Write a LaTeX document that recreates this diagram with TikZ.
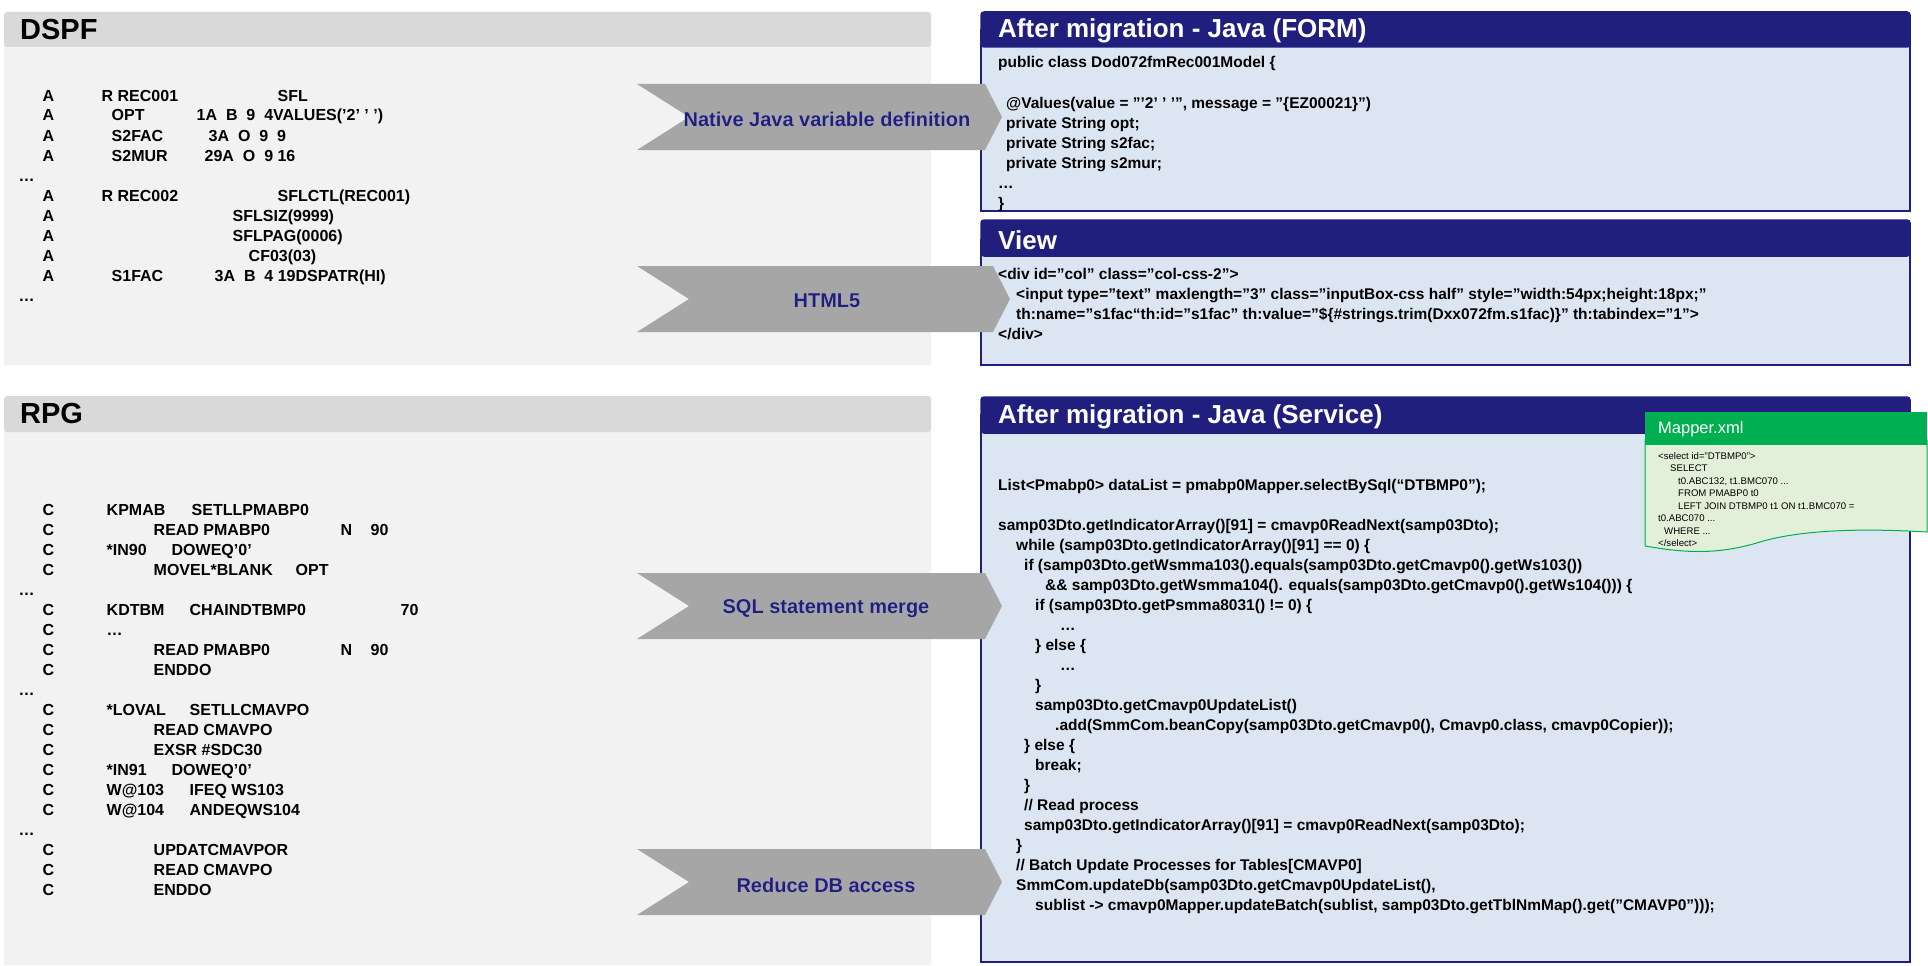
\documentclass[tikz,border=0pt]{standalone}
\usepackage{fontspec}
\setmainfont{Liberation Sans}
\usepackage[outline]{contour}
\contourlength{1.3pt}
\definecolor{navy}{RGB}{33,31,125}
\definecolor{pbody}{RGB}{242,242,242}
\definecolor{phead}{RGB}{217,217,217}
\definecolor{jbody}{RGB}{220,230,242}
\definecolor{arrowgray}{RGB}{166,166,166}
\definecolor{mgreen}{RGB}{0,176,80}
\definecolor{mbody}{RGB}{226,239,217}
\definecolor{halo}{RGB}{215,220,235}
\newcounter{lnc}
\newcommand{\tk}[2]{\rlap{\hspace*{#1pt}#2}}
\newcommand{\cln}[3]{\stepcounter{lnc}\node[code] (l\arabic{lnc}) at (#1,#2) {#3};}
\newcommand{\jln}[3]{\stepcounter{lnc}\node[jcode] (l\arabic{lnc}) at (#1,#2) {#3};}
\begin{document}
\begin{tikzpicture}[x=1pt,y=-1pt,
  code/.style={anchor=base west,inner sep=0,font=\fontsize{16}{19}\selectfont\bfseries},
  jcode/.style={anchor=base west,inner sep=0,font=\fontsize{15.5}{19}\selectfont\bfseries},
  mcode/.style={anchor=base west,inner sep=0,font=\fontsize{9.6}{12}\selectfont},
  panelbody/.style={fill=pbody,draw=none},
  panelhead/.style={fill=phead,draw=none,rounded corners=3pt},
  ptitle/.style={anchor=west,inner sep=0,font=\fontsize{29}{32}\selectfont\bfseries},
  jbox/.style={fill=jbody,draw=navy,line width=1.5pt},
  jhead/.style={fill=navy,draw=navy,line width=1.5pt,rounded corners=3pt},
  jtitle/.style={anchor=west,inner sep=0,text=white,font=\fontsize{26}{30}\selectfont\bfseries},
  chev/.style={fill=arrowgray,draw=none},
  chevlabel/.style={inner sep=0,text=navy,font=\fontsize{20}{24}\selectfont\bfseries}]
\useasboundingbox (0,0) rectangle (1928,966);
\fill[white] (0,0) rectangle (1928,966);
% ---- left panels
\fill[panelbody] (4,30) rectangle (931,365);
\fill[panelhead] (4,12) rectangle (931,47);
\node[ptitle] (tdspf) at (20,30) {DSPF};
\fill[panelbody] (4,415) rectangle (931,965);
\fill[panelhead] (4,396) rectangle (931,432);
\node[ptitle] (trpg) at (20,414) {RPG};
% ---- DSPF code
\cln{0}{101}{\tk{42}{A}\tk{101}{R REC001}\tk{277}{SFL}}
\cln{0}{121}{\tk{42}{A}\tk{111}{OPT}\tk{196}{1A\ \ B\ \ 9\ \ 4VALUES('2' ' ')}}
\cln{0}{141}{\tk{42}{A}\tk{111}{S2FAC}\tk{208}{3A\ \ O\ \ 9\ \ 9}}
\cln{0}{161}{\tk{42}{A}\tk{111}{S2MUR}\tk{204}{29A\ \ O\ \ 9 16}}
\cln{0}{181}{\tk{18}{…}}
\cln{0}{201}{\tk{42}{A}\tk{101}{R REC002}\tk{277}{SFLCTL(REC001)}}
\cln{0}{221}{\tk{42}{A}\tk{232}{SFLSIZ(9999)}}
\cln{0}{241}{\tk{42}{A}\tk{232}{SFLPAG(0006)}}
\cln{0}{261}{\tk{42}{A}\tk{248}{CF03(03)}}
\cln{0}{281}{\tk{42}{A}\tk{111}{S1FAC}\tk{214}{3A\ \ B\ \ 4 19DSPATR(HI)}}
\cln{0}{301}{\tk{18}{…}}
% ---- RPG code
\cln{0}{515}{\tk{42}{C}\tk{106}{KPMAB}\tk{191}{SETLLPMABP0}}
\cln{0}{535}{\tk{42}{C}\tk{153}{READ PMABP0}\tk{340}{N}\tk{370}{90}}
\cln{0}{555}{\tk{42}{C}\tk{106}{*IN90}\tk{171}{DOWEQ'0'}}
\cln{0}{575}{\tk{42}{C}\tk{153}{MOVEL*BLANK}\tk{295}{OPT}}
\cln{0}{595}{\tk{18}{…}}
\cln{0}{615}{\tk{42}{C}\tk{106}{KDTBM}\tk{189}{CHAINDTBMP0}\tk{400}{70}}
\cln{0}{635}{\tk{42}{C}\tk{106}{…}}
\cln{0}{655}{\tk{42}{C}\tk{153}{READ PMABP0}\tk{340}{N}\tk{370}{90}}
\cln{0}{675}{\tk{42}{C}\tk{153}{ENDDO}}
\cln{0}{695}{\tk{18}{…}}
\cln{0}{715}{\tk{42}{C}\tk{106}{*LOVAL}\tk{189}{SETLLCMAVPO}}
\cln{0}{735}{\tk{42}{C}\tk{153}{READ CMAVPO}}
\cln{0}{755}{\tk{42}{C}\tk{153}{EXSR \#SDC30}}
\cln{0}{775}{\tk{42}{C}\tk{106}{*IN91}\tk{171}{DOWEQ'0'}}
\cln{0}{795}{\tk{42}{C}\tk{106}{W@103}\tk{189}{IFEQ WS103}}
\cln{0}{815}{\tk{42}{C}\tk{106}{W@104}\tk{189}{ANDEQWS104}}
\cln{0}{835}{\tk{18}{…}}
\cln{0}{855}{\tk{42}{C}\tk{153}{UPDATCMAVPOR}}
\cln{0}{875}{\tk{42}{C}\tk{153}{READ CMAVPO}}
\cln{0}{895}{\tk{42}{C}\tk{153}{ENDDO}}
% ---- right boxes
\draw[jbox] (981,30) rectangle (1910,211);
\draw[jhead] (981,12) rectangle (1910,47);
\node[jtitle] (tform) at (998,31) {After migration - Java (FORM)};
\draw[jbox] (981,240) rectangle (1910,365);
\draw[jhead] (981,220) rectangle (1910,256);
\node[jtitle] (tview) at (998,240) {View};
\draw[jbox] (981,415) rectangle (1910,962);
\draw[jhead] (981,397) rectangle (1910,433);
\node[jtitle] (tserv) at (998,417) {After migration - Java (Service)};
% FORM code
\jln{998}{68}{public class Dod072fmRec001Model \{}
\jln{1006}{108}{@Values(value = "'2' ' '", message = "\{EZ00021\}")}
\jln{1006}{128}{private String opt;}
\jln{1006}{148}{private String s2fac;}
\jln{1006}{168}{private String s2mur;}
\jln{998}{188}{…}
\jln{998}{208}{\}}
% View code
\jln{998}{279}{<div id="col" class="col-css-2">}
\jln{1016}{299}{<input type="text" maxlength="3" class="inputBox-css half" style="width:54px;height:18px;"}
\jln{1016}{319}{th:name="s1fac“th:id="s1fac" th:value="\$\{\#strings.trim(Dxx072fm.s1fac)\}" th:tabindex="1">}
\jln{998}{339}{</div>}
% Service code
\jln{998}{490}{List<Pmabp0> dataList = pmabp0Mapper.selectBySql(“DTBMP0”);}
\jln{998}{530}{samp03Dto.getIndicatorArray()[91] = cmavp0ReadNext(samp03Dto);}
\jln{1016}{550}{while (samp03Dto.getIndicatorArray()[91] == 0) \{}
\jln{1024}{570}{if (samp03Dto.getWsmma103().equals(samp03Dto.getCmavp0().getWs103())}
\jln{1045}{590}{\&\& samp03Dto.getWsmma104(). equals(samp03Dto.getCmavp0().getWs104())) \{}
\jln{1035}{610}{if (samp03Dto.getPsmma8031() != 0) \{}
\jln{1060}{630}{…}
\jln{1035}{650}{\} else \{}
\jln{1060}{670}{…}
\jln{1035}{690}{\}}
\jln{1035}{710}{samp03Dto.getCmavp0UpdateList()}
\jln{1055}{730}{.add(SmmCom.beanCopy(samp03Dto.getCmavp0(), Cmavp0.class, cmavp0Copier));}
\jln{1024}{750}{\} else \{}
\jln{1035}{770}{break;}
\jln{1024}{790}{\}}
\jln{1024}{810}{// Read process}
\jln{1024}{830}{samp03Dto.getIndicatorArray()[91] = cmavp0ReadNext(samp03Dto);}
\jln{1016}{850}{\}}
\jln{1016}{870}{// Batch Update Processes for Tables[CMAVP0]}
\jln{1016}{890}{SmmCom.updateDb(samp03Dto.getCmavp0UpdateList(),}
\jln{1035}{910}{sublist -> cmavp0Mapper.updateBatch(sublist, samp03Dto.getTblNmMap().get("CMAVP0")));}
% ---- Mapper.xml
\fill[mbody,draw=mgreen,line width=1pt] (1645,440) -- (1927,440) -- (1927,532)
  .. controls (1860,528) and (1800,530) .. (1760,542)
  .. controls (1715,556) and (1680,552) .. (1645,546) -- cycle;
\fill[mgreen] (1645,412) rectangle (1927,445);
\node[anchor=west,inner sep=0,text=white,font=\fontsize{16.5}{20}\selectfont] (tmap) at (1658,429) {Mapper.xml};
\stepcounter{lnc}\node[mcode] (m1) at (1658,459) {<select id="DTBMP0">};
\node[mcode] (m2) at (1670,471.5) {SELECT};
\node[mcode] (m3) at (1678,484) {t0.ABC132, t1.BMC070 ...};
\node[mcode] (m4) at (1678,496.5) {FROM PMABP0 t0};
\node[mcode] (m5) at (1678,509) {LEFT JOIN DTBMP0 t1 ON t1.BMC070 =};
\node[mcode] (m6) at (1658,521.5) {t0.ABC070 ...};
\node[mcode] (m7) at (1664,534) {WHERE ...};
\node[mcode] (m8) at (1658,546.5) {</select>};
% ---- chevrons
\foreach \nm/\yc/\tip in {a/117/1002, b/299/1010, c/606/1002, d/882/1002}{
  \fill[chev] (637,\yc-33) -- (\tip-17,\yc-33) -- (\tip,\yc) -- (\tip-17,\yc+33) -- (637,\yc+33) -- (689,\yc) -- cycle;
}
\node[chevlabel] (ca) at (827,119) {\contour{halo}{Native Java variable definition}};
\node[chevlabel] (cb) at (827,301) {\contour{halo}{HTML5}};
\node[chevlabel] (cc) at (826,609) {\contour{halo}{SQL statement merge}};
\node[chevlabel] (cd) at (826,885) {\contour{halo}{Reduce DB access}};
\end{tikzpicture}
\end{document}
